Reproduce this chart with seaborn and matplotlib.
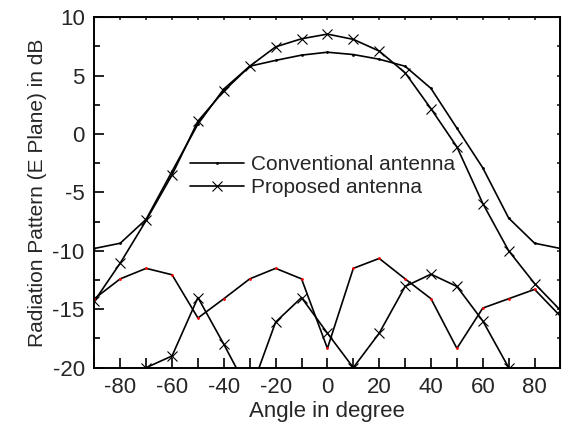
import matplotlib
matplotlib.use("Agg")
import matplotlib.pyplot as plt
import seaborn as sns
from matplotlib.ticker import MultipleLocator

# angles in degree
angles = list(range(-90, 91, 10))
side_angles = list(range(-70, 71, 10))

conv_main = [-9.8, -9.35, -7.3, -3.2, 0.85, 3.85, 5.8, 6.3, 6.75, 7.0,
             6.8, 6.4, 5.8, 3.9, 0.5, -2.9, -7.2, -9.35, -9.8]
prop_main = [-14.3, -11.05, -7.4, -3.5, 1.1, 3.68, 5.8, 7.46, 8.15, 8.55,
             8.1, 7.1, 5.24, 2.16, -1.1, -5.95, -10.0, -12.8, -15.1]
conv_side = [-14.1, -12.4, -11.5, -12.05, -15.75, -14.1, -12.4, -11.5, -12.4, -18.35,
             -11.5, -10.65, -12.4, -14.1, -18.35, -14.9, -14.1, -13.3, -15.6]
prop_side = [-20.0, -19.0, -14.0, -18.0, -22.2, -16.1, -14.0, -17.05,
             -20.0, -17.05, -13.05, -12.0, -13.05, -16.0, -20.0]

sns.set_style("ticks")
plt.rcParams['font.family'] = ['Liberation Sans', 'DejaVu Sans']
plt.rcParams['axes.unicode_minus'] = False

fig = plt.figure(figsize=(5.65, 4.29), dpi=100)
ax = fig.add_axes([0.167, 0.143, 0.825, 0.817])

lw = 1.2
x_style = dict(marker="x", markersize=7, markeredgewidth=0.8,
               markeredgecolor="k")
sns.lineplot(x=angles, y=conv_main, ax=ax, color="k", lw=lw, marker="o",
             markersize=2, markeredgewidth=0, label="Conventional antenna")
sns.lineplot(x=angles, y=prop_main, ax=ax, color="k", lw=lw,
             label="Proposed antenna", **x_style)
sns.lineplot(x=angles, y=conv_side, ax=ax, color="k", lw=lw, marker="o",
             markersize=2, markeredgewidth=0, markerfacecolor="red")
sns.lineplot(x=side_angles, y=prop_side, ax=ax, color="k", lw=lw, **x_style)

ax.set_xlim(-90, 90)
ax.set_ylim(-20, 10)
ax.xaxis.set_major_locator(MultipleLocator(20))
ax.xaxis.set_minor_locator(MultipleLocator(10))
ax.yaxis.set_major_locator(MultipleLocator(5))
ax.yaxis.set_minor_locator(MultipleLocator(2.5))

ax.tick_params(which="both", direction="in", labelsize=16, color="k")
ax.tick_params(axis="x", which="both", length=7, width=1.2, pad=7)
ax.tick_params(axis="y", which="major", length=7, width=1.2, pad=7)
ax.tick_params(axis="y", which="minor", length=4, width=1.2)

# tiny ticks on the top and right spines
top = ax.secondary_xaxis("top")
top.xaxis.set_major_locator(MultipleLocator(10))
top.tick_params(direction="in", length=2, width=1.2, labeltop=False)
right = ax.secondary_yaxis("right")
right.yaxis.set_major_locator(MultipleLocator(2.5))
right.tick_params(direction="in", length=2.5, width=1.2, labelright=False)

for s in ax.spines.values():
    s.set_linewidth(1.4)
    s.set_color("k")
    s.set_visible(True)

ax.set_xlabel("Angle in degree", fontsize=16, labelpad=2)
ax.set_ylabel("Radiation Pattern (E Plane) in dB", fontsize=15, labelpad=4)

ax.legend(loc="upper left", bbox_to_anchor=(0.205, 0.607), frameon=False,
          fontsize=15, handlelength=2.6, handletextpad=0.35,
          labelspacing=0.2, borderpad=0, borderaxespad=0)

fig.savefig("out.png", dpi=100)
